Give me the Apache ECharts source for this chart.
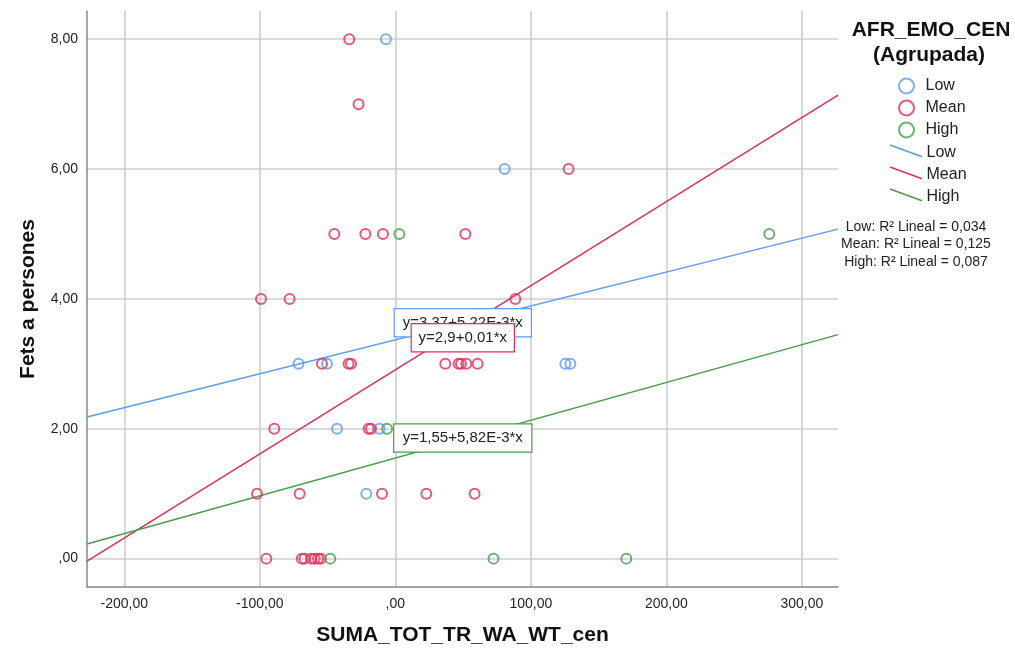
<!DOCTYPE html>
<html>
<head>
<meta charset="utf-8">
<script src="https://cdn.jsdelivr.net/npm/echarts@6/dist/echarts.min.js"></script>
<style>
html,body{margin:0;padding:0;background:#fff;}
#chart{width:1015px;height:655px;}
</style>
</head>
<body>
<div id="chart"></div>
<script>
// ---- data ----
const groups = ['Low', 'Mean', 'High'];
const lowX  = [-6.9, 80.7, -71.4, -50.4, 125.5, 129.2, -43, -11.6, -21.4];
const lowY  = [8, 6, 3, 3, 3, 3, 2, 2, 1];
const meanX = [-34, -27.1, 127.9, -45, -22.1, -9.1, 51.7, -99.1, -78, 88.6,
               -54.1, -34.5, -32.7, 36.9, 46.7, 48.5, 52.4, 60.7,
               -89.3, -19.7, -17.9,
               -102, -70.6, -9.8, 22.9, 58.5,
               -95.2, -69, -67, -62, -59.5, -57, -55];
const meanY = [8, 7, 6, 5, 5, 5, 5, 4, 4, 4,
               3, 3, 3, 3, 3, 3, 3, 3,
               2, 2, 2,
               1, 1, 1, 1, 1,
               0, 0, 0, 0, 0, 0, 0];
const highX = [3, 276, -6.1, -48, 72.5, 170.5];
const highY = [5, 5, 2, 0, 0, 0];
// fit line end points (x at plot edges, y)
const fitX    = [-227.5, 326.7];
const lowFit  = [2.18, 5.075];
const meanFit = [-0.04, 7.14];
const highFit = [0.226, 3.45];
const equations = ['y=3,37+5,22E-3*x', 'y=2,9+0,01*x', 'y=1,55+5,82E-3*x'];
const eqAnchorX = [49.8, 49.8, 49.8];
const eqAnchorY = [3.633, 3.402, 1.858];
const rSquared = ['Low: R\u00b2 Lineal = 0,034', 'Mean: R\u00b2 Lineal = 0,125', 'High: R\u00b2 Lineal = 0,087'];
const xTicks = [-200, -100, 0, 100, 200, 300];
const yTicks = [0, 2, 4, 6, 8];

// ---- styling ----
const FONT = "'Liberation Sans', Arial, sans-serif";
const colors = ['#5d9ce8', '#e0305a', '#4a9c48'];
const eqBoxW = [136, 102, 137];

function zip(xs, ys) { return xs.map((x, i) => [x, ys[i]]); }
function fmt(v) {
  if (v === 0) return ',00';
  return v.toFixed(2).replace('.', ',');
}

const scatterData = [zip(lowX, lowY), zip(meanX, meanY), zip(highX, highY)];
const fits = [lowFit, meanFit, highFit];

const series = [];
groups.forEach((g, i) => {
  series.push({
    name: g + ' ',
    type: 'line',
    data: zip(fitX, fits[i]),
    showSymbol: false,
    symbol: 'none',
    silent: true,
    lineStyle: { color: colors[i], width: 1.5 },
    z: 2,
    markPoint: {
      z: 10 + (i === 1 ? 2 : 0),
      symbol: 'circle',
      symbolSize: 1,
      itemStyle: { color: 'rgba(255,255,255,0)' },
      label: {
        show: true, position: 'inside', formatter: equations[i],
        color: '#222', fontSize: 15, fontFamily: FONT,
        backgroundColor: '#fff', borderColor: colors[i], borderWidth: 1.2,
        width: eqBoxW[i] - 8, height: 19, lineHeight: 19,
        padding: [4, 4, 4, 4], align: 'center', verticalAlign: 'middle'
      },
      data: [{ coord: [eqAnchorX[i], eqAnchorY[i]] }]
    }
  });
});
groups.forEach((g, i) => {
  series.push({
    name: g,
    type: 'scatter',
    data: scatterData[i],
    symbol: 'circle',
    symbolSize: 10,
    itemStyle: { color: 'rgba(255,255,255,0)', borderColor: colors[i], borderWidth: 2 },
    z: 3
  });
});

const graphic = [
  { type: 'text', x: 931, y: 30, style: { text: 'AFR_EMO_CEN', font: 'bold 21px ' + FONT, fill: '#111', textAlign: 'center', textVerticalAlign: 'middle' } },
  { type: 'text', x: 929, y: 55, style: { text: '(Agrupada)', font: 'bold 21px ' + FONT, fill: '#111', textAlign: 'center', textVerticalAlign: 'middle' } }
];
groups.forEach((g, i) => {
  graphic.push({ type: 'line', shape: { x1: 890, y1: 145 + 22 * i, x2: 922, y2: 156.7 + 22 * i }, style: { stroke: colors[i], lineWidth: 1.5 } });
  graphic.push({ type: 'text', x: 926.5, y: 152.7 + 22 * i, style: { text: g, font: '16px ' + FONT, fill: '#222', textVerticalAlign: 'middle' } });
  graphic.push({ type: 'text', x: 916, y: 227 + 17.5 * i, style: { text: rSquared[i], font: '14px ' + FONT, fill: '#222', textAlign: 'center', textVerticalAlign: 'middle' } });
});

const chart = echarts.init(document.getElementById('chart'), null, { renderer: 'canvas' });
chart.setOption({
  backgroundColor: '#fff',
  animation: false,
  textStyle: { fontFamily: FONT },
  grid: { left: 87, right: 177, top: 11, bottom: 68, containLabel: false },
  legend: {
    data: groups,
    orient: 'vertical',
    left: 898, top: 77.5,
    padding: 0,
    itemWidth: 28, itemHeight: 15, itemGap: 5,
    selectedMode: false,
    textStyle: { fontSize: 16, color: '#222', fontFamily: FONT }
  },
  xAxis: {
    type: 'value',
    min: -227.5, max: 326.7,
    name: 'SUMA_TOT_TR_WA_WT_cen',
    nameLocation: 'middle', nameGap: 38,
    nameTextStyle: { fontSize: 21, fontWeight: 'bold', color: '#111', fontFamily: FONT },
    axisLine: { show: true, onZero: false, lineStyle: { color: '#888', width: 1.5 } },
    axisTick: { show: false, customValues: xTicks },
    axisLabel: { customValues: xTicks, formatter: fmt, fontSize: 14, color: '#222', margin: 10, fontFamily: FONT },
    splitLine: { show: true, lineStyle: { color: '#cfcfcf', width: 1.6 } }
  },
  yAxis: {
    type: 'value',
    min: -0.437, max: 8.435,
    name: 'Fets a persones',
    nameLocation: 'middle', nameGap: 48,
    nameTextStyle: { fontSize: 21, fontWeight: 'bold', color: '#111', fontFamily: FONT },
    axisLine: { show: true, onZero: false, lineStyle: { color: '#888', width: 1.5 } },
    axisTick: { show: false, customValues: yTicks },
    axisLabel: { customValues: yTicks, formatter: fmt, fontSize: 14, color: '#222', margin: 9, fontFamily: FONT },
    splitLine: { show: true, lineStyle: { color: '#cfcfcf', width: 1.6 } }
  },
  graphic: graphic,
  series: series
});
</script>
</body>
</html>
